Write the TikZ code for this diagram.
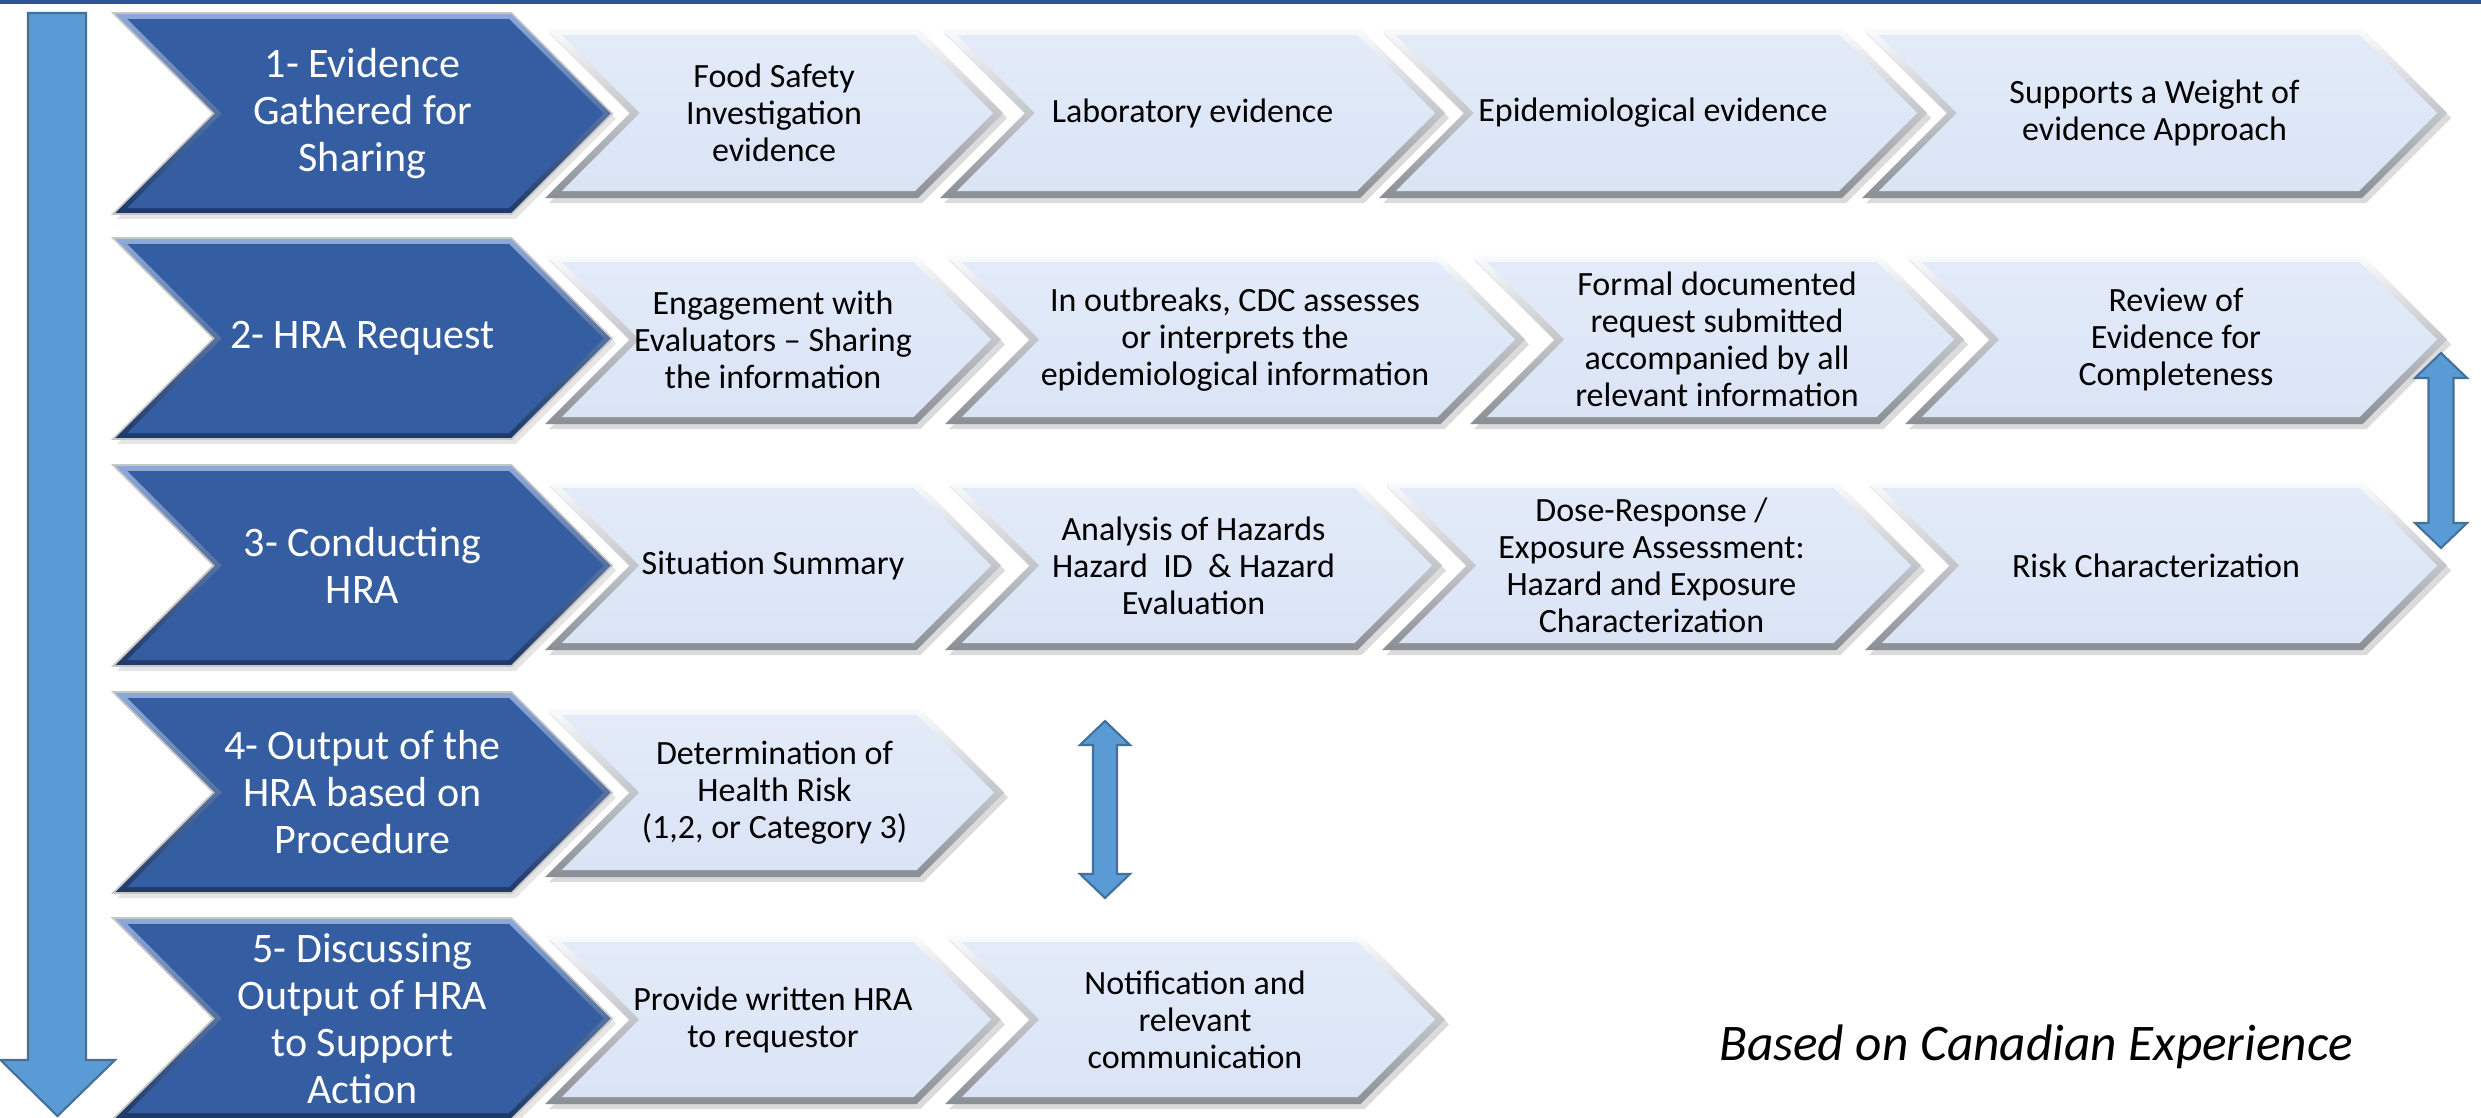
\documentclass[tikz,border=0pt]{standalone}
\usepackage{fontspec}
\setmainfont{Carlito}
\definecolor{topbar}{HTML}{2F5597}
\definecolor{dkin}{HTML}{355EA2}
\definecolor{dktop}{HTML}{8FAADA}
\definecolor{dkbot}{HTML}{1E3966}
\definecolor{ltintop}{HTML}{E3EBF9}
\definecolor{ltinbot}{HTML}{DAE4F5}
\definecolor{lttop}{HTML}{FBFCFE}
\definecolor{ltbot}{HTML}{8A8E95}
\definecolor{arrfill}{HTML}{5B9BD5}
\definecolor{arrline}{HTML}{41719C}

\tikzset{
  dktext/.style={text=white, align=center, font=\fontsize{11.95}{13.37}\selectfont, inner sep=0pt},
  lttext/.style={text=black, align=center, font=\fontsize{9.67}{10.5}\selectfont, inner sep=0pt},
  dkshadow/.style={fill=black, fill opacity=0.10},
  ltshadow/.style={fill=black, fill opacity=0.14},
  dkouter/.style={top color=dktop, bottom color=dkbot, draw=gray!45, line width=0.5pt},
  ltouter/.style={top color=lttop, bottom color=ltbot},
  dkinner/.style={fill=dkin},
  ltinner/.style={top color=ltintop, bottom color=ltinbot},
  bluearrow/.style={fill=arrfill, draw=arrline, line width=0.6pt, line join=miter},
}

% #1 kind (dk/lt), #2 name, #3 left, #4 tip, #5 top, #6 bottom, #7 inset, #8 text
\newcommand{\chevronbox}[8]{%
  \pgfmathsetmacro\chM{(#5+#6)/2}%
  \pgfmathsetmacro\chD{(#6-#5)/2}%
  \pgfmathsetmacro\chE{#7}%
  \pgfmathsetmacro\chS{#7*1.4142}%
  \path[#1shadow, shift={(4,5)}] ({#3},{#5}) -- ({#4-\chD},{#5}) -- ({#4},{\chM}) -- ({#4-\chD},{#6}) -- ({#3},{#6}) -- ({#3+\chD},{\chM}) -- cycle;
  \path[#1outer] ({#3},{#5}) -- ({#4-\chD},{#5}) -- ({#4},{\chM}) -- ({#4-\chD},{#6}) -- ({#3},{#6}) -- ({#3+\chD},{\chM}) -- cycle;
  \path[#1inner] ({#3+\chE+\chS},{#5+\chE}) -- ({#4-\chD+\chE-\chS},{#5+\chE}) -- ({#4-\chS},{\chM}) -- ({#4-\chD+\chE-\chS},{#6-\chE}) -- ({#3+\chE+\chS},{#6-\chE}) -- ({#3+\chD+\chS},{\chM}) -- cycle;
  \node[#1text] (#2) at ({(#3+#4)/2},{\chM}) {#8};
}

\begin{document}
\begin{tikzpicture}[x=0.01cm, y=-0.01cm]
\useasboundingbox (0,0) rectangle (2481,1118);
\fill[white] (0,0) rectangle (2481,1118);
\fill[topbar] (0,0) rectangle (2481,4);

% big downward arrow
\path[bluearrow] (28,13) -- (86,13) -- (86,1060) -- (115,1060) -- (57.5,1116) -- (0.5,1060) -- (28,1060) -- cycle;

% row 1
\chevronbox{dk}{s1}{113}{612}{13}{214}{6}{1- Evidence\\Gathered for\\Sharing}
\chevronbox{lt}{a1}{545}{1003}{28}{198}{7}{Food Safety\\Investigation\\evidence}
\chevronbox{lt}{b1}{940}{1445}{28}{198}{7}{Laboratory evidence}
\chevronbox{lt}{c1}{1379}{1927}{28}{198}{7}{Epidemiological evidence}
\chevronbox{lt}{d1}{1862}{2447}{28}{198}{7}{Supports a Weight of\\evidence Approach}

% row 2
\chevronbox{dk}{s2}{113}{612}{238}{439}{6}{2- HRA Request}
\chevronbox{lt}{a2}{545}{1001}{255}{424}{7}{Engagement with\\Evaluators – Sharing\\the information}
\chevronbox{lt}{b2}{945}{1525}{255}{424}{7}{In outbreaks, CDC assesses\\or interprets the\\epidemiological information}
\chevronbox{lt}{c2}{1470}{1964}{255}{424}{7}{Formal documented\\request submitted\\accompanied by all\\relevant information}
\chevronbox{lt}{d2}{1905}{2447}{255}{424}{7}{Review of\\Evidence for\\Completeness}

% row 3
\chevronbox{dk}{s3}{113}{612}{465}{666}{6}{3- Conducting\\HRA}
\chevronbox{lt}{a3}{545}{1001}{481}{650}{7}{Situation Summary}
\chevronbox{lt}{b3}{945}{1442}{481}{650}{7}{Analysis of Hazards\\Hazard\ \ ID\ \ \& Hazard\\Evaluation}
\chevronbox{lt}{c3}{1382}{1921}{481}{650}{7}{Dose-Response /\\Exposure Assessment:\\Hazard and Exposure\\Characterization}
\chevronbox{lt}{d3}{1865}{2447}{481}{650}{7}{Risk Characterization}

% row 4
\chevronbox{dk}{s4}{113}{612}{692}{893}{6}{4- Output of the\\HRA based on\\Procedure}
\chevronbox{lt}{a4}{545}{1004}{708}{877}{7}{Determination of\\Health Risk\\(1,2, or Category 3)}

% row 5
\chevronbox{dk}{s5}{113}{612}{918}{1119}{6}{5- Discussing\\Output of HRA\\to Support\\Action}
\chevronbox{lt}{a5}{545}{1001}{935}{1104}{7}{Provide written HRA\\to requestor}
\chevronbox{lt}{b5}{945}{1445}{935}{1104}{7}{Notification and\\relevant\\communication}

% double arrows
\path[bluearrow] (2441,353) -- (2467,378) -- (2453.5,378) -- (2453.5,523) -- (2467,523) -- (2441,548) -- (2415,523) -- (2428.5,523) -- (2428.5,378) -- (2415,378) -- cycle;
\path[bluearrow] (1105,721) -- (1130,745) -- (1117,745) -- (1117,874) -- (1130,874) -- (1105,898) -- (1080,874) -- (1093,874) -- (1093,745) -- (1080,745) -- cycle;

% note
\node[font=\itshape\fontsize{14.6}{17}\selectfont, inner sep=0pt] (note) at (2036,1047) {Based on Canadian Experience};
\end{tikzpicture}
\end{document}
